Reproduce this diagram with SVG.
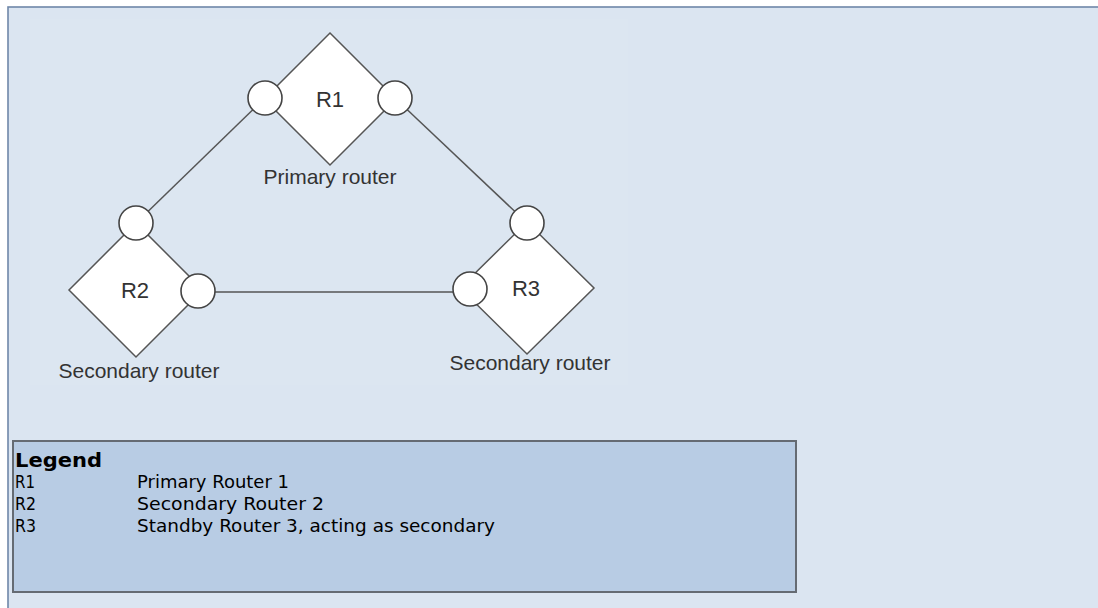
<svg xmlns="http://www.w3.org/2000/svg" width="1098" height="608" viewBox="0 0 1098 608">
<style>
.dia{fill:#ffffff;stroke:#555555;stroke-width:1.5}
.port{fill:#ffffff;stroke:#444444;stroke-width:1.6}
.lbl{font-family:"Liberation Sans",Arial,sans-serif;fill:#333333;text-anchor:middle}
.name{font-size:22px}
.cap{font-size:21px}
.leg{font-family:"DejaVu Sans","Liberation Sans",sans-serif;font-size:17px;fill:#000000}
.legh{font-family:"DejaVu Sans","Liberation Sans",sans-serif;font-size:19px;font-weight:bold;fill:#000000}
.link{stroke:#555555;stroke-width:1.5;fill:none}
</style>
<rect x="0" y="0" width="1098" height="608" fill="#ffffff"/>
<rect x="8" y="7" width="1100" height="610" fill="#dbe5f1" stroke="#6f87a9" stroke-width="1.6"/>
<rect x="30" y="19" width="598" height="366" fill="#dce6f1"/>
<g id="connectors">
<line class="link" x1="252.8" y1="109.8" x2="148.2" y2="211.2"/>
<line class="link" x1="407.3" y1="109.7" x2="514.7" y2="211.3"/>
<line class="link" x1="215" y1="292" x2="453" y2="292" stroke-width="2.4"/>
</g>
<g id="R1">
<polygon class="dia" points="330,33 396,99 330,165 264,99"/>
<circle class="port" cx="265" cy="98" r="17"/>
<circle class="port" cx="395" cy="98" r="17"/>
<text class="lbl name" x="330" y="107">R1</text>
<text class="lbl cap" x="330" y="184">Primary router</text>
</g>
<g id="R2">
<polygon class="dia" points="136,223 203,290 136,357 69,290"/>
<circle class="port" cx="136" cy="223" r="17"/>
<circle class="port" cx="198" cy="291" r="17"/>
<text class="lbl name" x="135" y="298">R2</text>
<text class="lbl cap" x="139" y="378">Secondary router</text>
</g>
<g id="R3">
<polygon class="dia" points="527,222 594,288 527,354 460,288"/>
<circle class="port" cx="527" cy="223" r="17"/>
<circle class="port" cx="470" cy="289" r="17"/>
<text class="lbl name" x="526" y="296">R3</text>
<text class="lbl cap" x="530" y="370">Secondary router</text>
</g>
<g id="legend">
<rect x="13" y="441" width="783" height="151" fill="#b8cce4" stroke="#656b73" stroke-width="2"/>
<text class="legh" x="15" y="467" textLength="87" lengthAdjust="spacingAndGlyphs">Legend</text>
<text class="leg" x="15" y="488" textLength="20" lengthAdjust="spacingAndGlyphs">R1</text>
<text class="leg" x="137" y="488" textLength="152" lengthAdjust="spacingAndGlyphs">Primary Router 1</text>
<text class="leg" x="15" y="510" textLength="21" lengthAdjust="spacingAndGlyphs">R2</text>
<text class="leg" x="137" y="510" textLength="187" lengthAdjust="spacingAndGlyphs">Secondary Router 2</text>
<text class="leg" x="15" y="532" textLength="21" lengthAdjust="spacingAndGlyphs">R3</text>
<text class="leg" x="137" y="532" textLength="358" lengthAdjust="spacingAndGlyphs">Standby Router 3, acting as secondary</text>
</g>
</svg>
